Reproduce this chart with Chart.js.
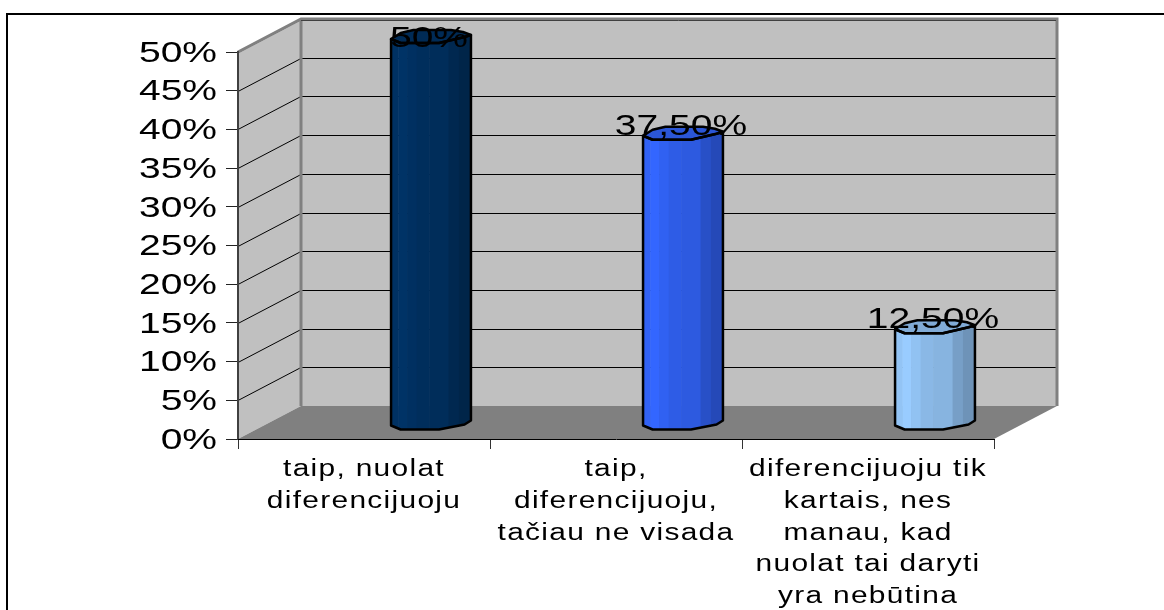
<!DOCTYPE html>
<html><head><meta charset="utf-8">
<style>html,body{margin:0;padding:0;background:#fff}canvas{display:block}</style>
<script src="https://cdn.jsdelivr.net/npm/chart.js@4/dist/chart.umd.min.js"></script>
</head><body><canvas id="c" width="1164" height="610"></canvas>
<script>
const categories = [
  ["taip, nuolat","diferencijuoju"],
  ["taip,","diferencijuoju,","tačiau ne visada"],
  ["diferencijuoju tik","kartais, nes","manau, kad","nuolat tai daryti","yra nebūtina"]
];
const values = [50, 37.5, 12.5];
const valueLabels = ["50%","37,50%","12,50%"];
const barColors = [[0,51,102],[51,102,255],[153,204,255]];
const strips = [[0,.09,.96],[.09,.2,1],[.2,.32,.95],[.32,.48,.9],[.48,.72,.88],[.72,.85,.78],[.85,1,.72]];
const DEPTH_X = 63, DEPTH_Y = -33, BAR_DX = 67, BAR_DY = -16;
const FONT = '"Liberation Sans", Arial, sans-serif';

const shade = (c,m)=>`rgb(${c.map(v=>Math.round(v*m)).join(',')})`;

const scene = {
  id:'scene',
  beforeDraw(chart){
    const {ctx,chartArea:a,scales:{y}} = chart;
    // stretched text, same as the wide type of the reference
    const orig = ctx.fillText;
    ctx.fillText = function(t,px,py){
      const small = ctx.font.includes('23px');
      ctx.save();
      ctx.translate(px,py+(small?0:1.5));
      ctx.scale(1.3,1);
      ctx.letterSpacing = small ? '1px' : '0px';
      orig.call(ctx,t,0,0);
      ctx.restore();
    };
    ctx.save();
    // outer frame
    ctx.strokeStyle='#000';ctx.lineWidth=2;
    ctx.beginPath();ctx.moveTo(7,chart.height);ctx.lineTo(7,14);ctx.lineTo(chart.width,14);ctx.stroke();
    const bx0=a.left+DEPTH_X, bx1=a.right+DEPTH_X, by0=a.top+DEPTH_Y, by1=a.bottom+DEPTH_Y;
    // back wall
    ctx.fillStyle='#c0c0c0';ctx.fillRect(bx0,by0,bx1-bx0,by1-by0);
    // side wall
    ctx.beginPath();ctx.moveTo(a.left,a.top);ctx.lineTo(bx0,by0);ctx.lineTo(bx0,by1);ctx.lineTo(a.left,a.bottom);ctx.closePath();ctx.fill();
    // floor
    ctx.fillStyle='#808080';
    ctx.beginPath();ctx.moveTo(a.left,a.bottom);ctx.lineTo(a.right,a.bottom);ctx.lineTo(bx1,by1);ctx.lineTo(bx0,by1);ctx.closePath();ctx.fill();
    // grid on walls
    ctx.strokeStyle='#000';ctx.lineWidth=1;
    y.ticks.forEach(t=>{
      if(t.value===0) return;
      const p=Math.round(y.getPixelForValue(t.value))+.5;
      ctx.beginPath();ctx.moveTo(a.left,p);ctx.lineTo(bx0,p+DEPTH_Y);ctx.lineTo(bx1,p+DEPTH_Y);ctx.stroke();
    });
    // wall edges
    ctx.strokeStyle='#808080';ctx.lineWidth=3;
    ctx.beginPath();ctx.moveTo(a.left,a.top);ctx.lineTo(bx0,by0);ctx.lineTo(bx1,by0);ctx.lineTo(bx1,by1);ctx.moveTo(bx0,by0);ctx.lineTo(bx0,by1);ctx.stroke();
    ctx.strokeStyle='#404040';ctx.lineWidth=1;
    ctx.beginPath();ctx.moveTo(bx0,by0+1.5);ctx.lineTo(bx1-1,by0+1.5);ctx.stroke();
    ctx.restore();
  },
  afterDatasetsDraw(chart){
    const {ctx,chartArea:a} = chart;
    const meta = chart.getDatasetMeta(0);
    meta.data.forEach((bar,i)=>{
      const w=bar.width, L=bar.x-w/2+BAR_DX, top=bar.y+BAR_DY, base=bar.base+BAR_DY, col=barColors[i];
      const X=f=>L+w*f;
      const body=()=>{
        ctx.beginPath();
        ctx.moveTo(X(0),top+3);ctx.lineTo(X(.12),top+7);ctx.lineTo(X(.6),top+7);ctx.lineTo(X(.92),top+1);ctx.lineTo(X(1),top-1);
        ctx.lineTo(X(1),base-2);ctx.lineTo(X(.92),base+2);ctx.lineTo(X(.6),base+7);ctx.lineTo(X(.12),base+7);ctx.lineTo(X(0),base+3);
        ctx.closePath();
      };
      ctx.save();
      body();ctx.clip();
      strips.forEach(s=>{ctx.fillStyle=shade(col,s[2]);ctx.fillRect(X(s[0]),top-10,w*(s[1]-s[0])+.5,base-top+20);});
      ctx.restore();
      ctx.save();
      ctx.lineJoin='round';ctx.strokeStyle='#000';ctx.lineWidth=2.5;
      ctx.beginPath();
      ctx.moveTo(X(0),top+3);ctx.lineTo(X(.12),top-3);ctx.lineTo(X(.28),top-6);ctx.lineTo(X(.75),top-6);ctx.lineTo(X(.9),top-4);ctx.lineTo(X(1),top-1);
      ctx.lineTo(X(.92),top+1);ctx.lineTo(X(.6),top+7);ctx.lineTo(X(.12),top+7);ctx.closePath();
      ctx.fillStyle=shade(col,.84);ctx.fill();ctx.stroke();
      body();ctx.stroke();
      ctx.restore();
      ctx.save();
      ctx.font='30px '+FONT;ctx.fillStyle='#000';ctx.textAlign='center';ctx.textBaseline='middle';
      ctx.fillText(valueLabels[i],bar.x+BAR_DX-2,Math.max(top-8,a.top-15));
      ctx.restore();
    });
    delete ctx.fillText;
  }
};

new Chart(document.getElementById('c'),{
  type:'bar',
  data:{labels:categories,datasets:[{data:values,backgroundColor:'rgba(0,0,0,0)',borderWidth:0,categoryPercentage:.317,barPercentage:1}]},
  plugins:[scene],
  options:{
    responsive:false,animation:false,
    layout:{padding:{top:52,right:170,left:0,bottom:0}},
    plugins:{legend:{display:false},tooltip:{enabled:false},title:{display:false}},
    scales:{
      y:{min:0,max:50,
        afterFit(s){s.width=238;},
        ticks:{stepSize:5,autoSkip:false,color:'#000',padding:9,font:{family:FONT,size:30},callback:v=>v+'%'},
        grid:{drawOnChartArea:false,drawTicks:true,tickLength:12,color:'#222'},
        border:{color:'#404040',width:2}
      },
      x:{
        afterFit(s){s.height=171;},
        ticks:{color:'#000',padding:5,autoSkip:false,maxRotation:0,minRotation:0,font:{family:FONT,size:23,lineHeight:31.7/23}},
        grid:{drawOnChartArea:false,drawTicks:true,tickLength:10,color:'#333',offset:true},
        border:{color:'#000',width:1}
      }
    }
  }
});
</script></body></html>
